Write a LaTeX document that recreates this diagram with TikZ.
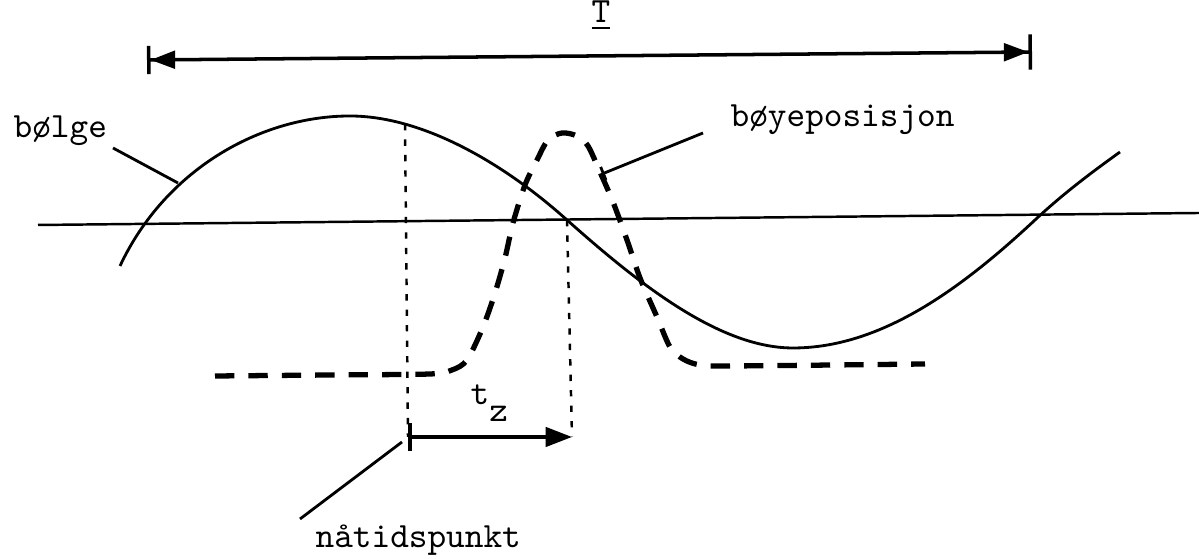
\documentclass[tikz,border=0pt]{standalone}
\usepackage{fontspec}
\usepackage{tikz}
\usetikzlibrary{arrows.meta,calc}

\begin{document}
\begin{tikzpicture}[
    x=0.01cm, y=-0.01cm,
    font=\ttfamily\fontsize{10.1}{11}\selectfont,
    label/.style={inner sep=0pt},
    wave/.style={line width=0.8pt},
    buoy/.style={line width=1.5pt, dash pattern=on 5.5pt off 4pt},
    guide/.style={line width=0.7pt, dash pattern=on 1.8pt off 2.6pt},
    leader/.style={line width=0.8pt},
    dim/.style={line width=1pt}
]
    \useasboundingbox (0,0) rectangle (1199,559);

    % end points of dimensions and leaders
    \coordinate (Tleft) at (147,60);
    \coordinate (Tright) at (1032,52);
    \coordinate (axisleft) at (38,225);
    \coordinate (axisright) at (1199,213);
    \coordinate (crest) at (350,116);
    \coordinate (now) at (405,124);
    \coordinate (cross) at (567,220);
    \coordinate (trough) at (793,348);
    \coordinate (rise) at (1035,220);
    \coordinate (nowfoot) at (408,437);
    \coordinate (crossfoot) at (572,437);
    \coordinate (waveptr) at (178,183);
    \coordinate (buoyptr) at (602,174);

    \node[label, anchor=base] (Tlabel) at (601,23) {\underline{T}};
    \node[label, anchor=base west] (bolge) at (13,138) {bølge};
    \node[label, anchor=base west] (boye) at (730,127) {bøyeposisjon};
    \node[label, anchor=base west] (natid) at (315,548) {nåtidspunkt};
    \node[label, anchor=base west] (tz) at (470,405) {t\raisebox{-4.8pt}{z}};

    \draw[dim, {Bar[width=8pt]Triangle[length=7pt,width=5pt]}-{Triangle[length=7pt,width=5pt]Bar[width=10pt]}] (Tleft) -- (Tright);
    \draw[line width=0.7pt] (axisleft) -- (axisright);

    \draw[wave] (120,266) .. controls (165,170) and (260,116) .. (crest)
        .. controls (420,116) and (500,160) .. (cross)
        .. controls (640,285) and (720,348) .. (trough)
        .. controls (880,348) and (960,290) .. (rise)
        .. controls (1065,192) and (1095,170) .. (1120,152);

    \draw[buoy] plot[smooth] coordinates {(215,376) (330,375) (430,374) (452,370) (467,360) (483,327) (495,293) (505,258) (513,223) (525,185) (537,160) (548,140) (562,133) (577,136) (588,146) (600,172) (613,202) (627,240) (640,278) (657,317) (670,347) (683,359) (700,365) (730,366) (925,364)};

    \draw[guide] (now) -- (nowfoot);
    \draw[guide] (cross) -- (crossfoot);
    \draw[dim, {Bar[width=8pt]}-{Triangle[length=7.5pt,width=5.5pt]}] (nowfoot) -- (crossfoot);

    \draw[leader] (113,148) -- (waveptr);
    \draw[leader, -{Bar[width=4pt]}] (703,133) -- (buoyptr);
    \draw[leader] (300,519) -- (402,442);
\end{tikzpicture}
\end{document}
